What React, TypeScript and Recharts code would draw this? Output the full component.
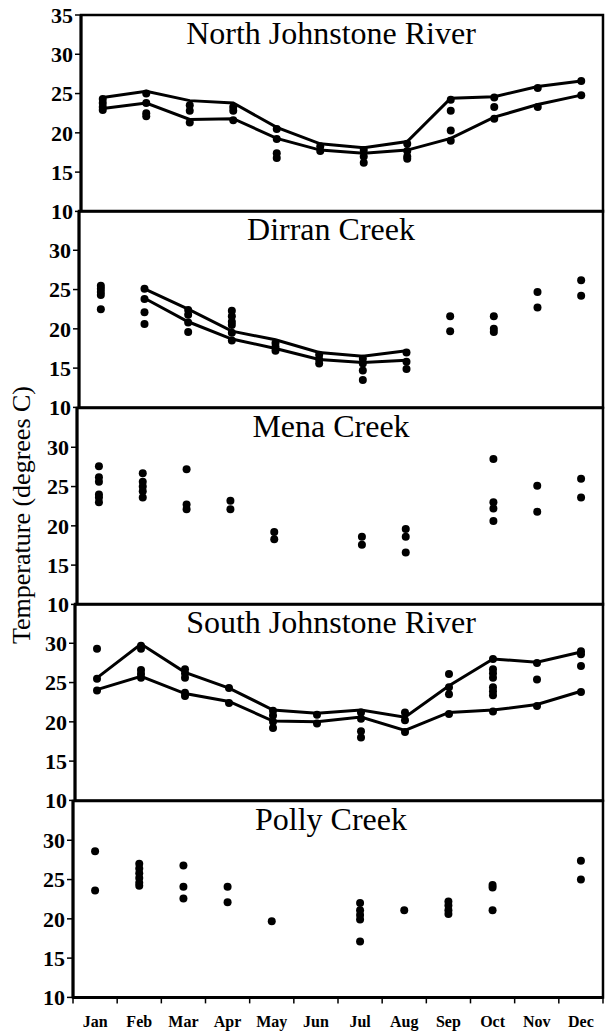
import React from 'react';
import { ComposedChart, Line, Scatter, XAxis, YAxis, ReferenceArea } from 'recharts';

const serif = '"Liberation Serif", "Times New Roman", serif';

const months = ['Jan', 'Feb', 'Mar', 'Apr', 'May', 'Jun', 'Jul', 'Aug', 'Sep', 'Oct', 'Nov', 'Dec'];
const monthNums = [1, 2, 3, 4, 5, 6, 7, 8, 9, 10, 11, 12];
const monthEdges = [0.5, 1.5, 2.5, 3.5, 4.5, 5.5, 6.5, 7.5, 8.5, 9.5, 10.5, 11.5, 12.5];
const tempTicksTop = [10, 15, 20, 25, 30, 35];
const tempTicks = [10, 15, 20, 25, 30];

// readings per month, Jan..Dec
const northPoints = [
  [24.3, 23.8, 23.3, 22.9],
  [25.0, 23.8, 22.5, 22.1],
  [23.5, 22.8, 21.3],
  [23.3, 22.8, 21.6],
  [20.5, 19.2, 17.4, 16.8],
  [18.3, 17.7],
  [17.8, 17.0, 16.2],
  [18.6, 17.7, 17.0, 16.7],
  [24.2, 22.8, 20.3, 19.0],
  [24.5, 23.3, 21.8],
  [25.7, 23.3],
  [26.6, 24.8],
];
const northUpper = [24.5, 25.3, 24.1, 23.8, 20.7, 18.6, 18.1, 18.9, 24.4, 24.6, 25.9, 26.6];
const northLower = [23.1, 23.8, 21.7, 21.8, 19.3, 17.8, 17.4, 17.8, 19.3, 22.0, 23.6, 24.8];

const dirranPoints = [
  [25.5, 25.1, 24.7, 24.3, 22.5],
  [25.1, 23.8, 22.1, 20.6],
  [22.4, 21.8, 20.8, 19.6],
  [22.3, 21.6, 20.9, 20.5, 19.5, 18.5],
  [18.2, 17.7, 17.2],
  [16.7, 16.1, 15.6],
  [16.2, 15.6, 14.7, 13.5],
  [17.0, 15.8, 14.9],
  [21.6, 19.7],
  [21.6, 20.0, 19.6],
  [24.7, 22.7],
  [26.2, 24.2],
];
const dirranUpper = [null, 25.1, 22.5, 19.7, 18.6, 17.0, 16.5, 17.2, null, null, null, null];
const dirranLower = [null, 23.9, 20.9, 18.7, 17.5, 16.1, 15.7, 16.0, null, null, null, null];

const menaPoints = [
  [27.6, 26.2, 25.6, 24.0, 23.6, 23.0],
  [26.7, 25.6, 25.0, 24.4, 23.6],
  [27.2, 22.7, 22.1],
  [23.2, 22.1],
  [19.2, 18.3],
  [],
  [18.6, 17.6],
  [19.6, 18.6, 16.6],
  [],
  [28.5, 23.0, 22.2, 20.6],
  [25.1, 21.8],
  [26.0, 23.6],
];

const southPoints = [
  [29.3, 25.5, 24.0],
  [29.7, 29.3, 26.6, 26.1, 25.6],
  [26.7, 26.2, 25.6, 23.7, 23.3],
  [24.3, 22.4],
  [21.4, 20.8, 20.0, 19.2],
  [20.9, 19.8],
  [21.2, 20.4, 18.8, 18.0],
  [21.2, 20.2, 18.7],
  [26.1, 24.4, 23.5, 21.0],
  [28.0, 26.7, 26.2, 25.6, 24.4, 23.9, 23.4, 21.3],
  [27.5, 25.4, 22.0],
  [29.0, 28.6, 27.1, 23.8],
];
const southUpper = [25.6, 29.9, 26.3, 24.3, 21.5, 21.1, 21.5, 20.6, 24.6, 28.0, 27.6, 28.9];
const southLower = [24.1, 25.8, 23.6, 22.6, 20.1, 20.0, 20.6, 18.9, 21.2, 21.5, 22.2, 23.9];

const pollyPoints = [
  [28.6, 23.6],
  [27.0, 26.4, 25.8, 25.2, 24.6, 24.2],
  [26.8, 24.1, 22.6],
  [24.1, 22.1],
  [19.7],
  [],
  [22.0, 21.1, 20.5, 19.9, 17.1],
  [21.1],
  [22.2, 21.7, 21.1, 20.6],
  [24.3, 24.0, 21.1],
  [],
  [27.4, 25.0],
];

const toPoints = (rows: number[][]) =>
  rows.flatMap((vals, i) => vals.map((v) => ({ m: i + 1, v })));
const toLine = (vals: (number | null)[]) =>
  vals.map((v, i) => ({ m: i + 1, v })).filter((d) => d.v !== null);
const monthAnchors = monthNums.map((m) => ({ m, v: 10 }));

const Dot = (props: any) => <circle cx={props.cx} cy={props.cy} r={4} fill="#000" />;
const NoShape = () => <g />;

interface PanelProps {
  title: string;
  points: number[][];
  lines?: (number | null)[][];
  top: number;
  left: number;
  first?: boolean;
  last?: boolean;
}

const PLOT_H = 196.4;
const PAD = 14;
const TITLE_X = 331;

function Panel({ title, points, lines = [], top, left, first, last }: PanelProps) {
  const height = PAD + PLOT_H + (last ? 40 : PAD);
  const plotCenter = (left + 603) / 2;
  return (
    <div style={{ position: 'absolute', top: top - PAD, left: 0 }}>
      <ComposedChart
        width={605}
        height={height}
        margin={{ top: PAD, right: 2, bottom: last ? 0 : PAD, left: 0 }}
      >
        <XAxis
          type="number"
          dataKey="m"
          domain={[0.5, 12.5]}
          ticks={monthEdges}
          interval={0}
          hide={!last}
          tickFormatter={() => ''}
          axisLine={{ stroke: '#000', strokeWidth: 3 }}
          tickLine={{ stroke: '#000', strokeWidth: 1.5 }}
          tickSize={6}
          height={8}
        />
        {last && (
          <XAxis
            xAxisId="lab"
            type="number"
            dataKey="m"
            domain={[0.5, 12.5]}
            ticks={monthNums}
            interval={0}
            tickFormatter={(v: number) => months[v - 1]}
            axisLine={false}
            tickLine={false}
            tickMargin={4}
            height={32}
            tick={{ fontSize: 16, fontWeight: 'bold', fill: '#000', fontFamily: serif }}
          />
        )}
        <YAxis
          type="number"
          dataKey="v"
          domain={[10, 35]}
          ticks={first ? tempTicksTop : tempTicks}
          interval={0}
          width={left}
          axisLine={{ stroke: '#000', strokeWidth: 3 }}
          tickLine={{ stroke: '#000', strokeWidth: 1.5 }}
          tickSize={6}
          tickMargin={2}
          tick={{ fontSize: 22, fontWeight: 'bold', fill: '#000', fontFamily: serif }}
        />
        <ReferenceArea
          x1={0.5}
          x2={12.5}
          y1={10}
          y2={35}
          fill="none"
          fillOpacity={0}
          stroke="#000"
          strokeWidth={2.5}
          ifOverflow="visible"
          label={{
            value: title,
            position: 'insideTop',
            offset: 6,
            dx: TITLE_X - plotCenter,
            fontSize: 32,
            fill: '#000',
            fontFamily: serif,
          }}
        />
        {lines.map((vals, i) => (
          <Line
            key={i}
            data={toLine(vals)}
            dataKey="v"
            stroke="#000"
            strokeWidth={3}
            dot={false}
            activeDot={false}
            isAnimationActive={false}
          />
        ))}
        <Scatter data={toPoints(points)} shape={Dot} isAnimationActive={false} />
        {last && (
          <Scatter xAxisId="lab" data={monthAnchors} shape={NoShape} isAnimationActive={false} />
        )}
      </ComposedChart>
    </div>
  );
}

export default function App() {
  const tops = [0, 1, 2, 3, 4].map((i) => 15 + PLOT_H * i);
  return (
    <div
      style={{
        position: 'absolute',
        left: 0,
        top: 0,
        width: 605,
        height: 1034,
        background: '#fff',
        fontFamily: serif,
      }}
    >
      <Panel title="North Johnstone River" points={northPoints} lines={[northUpper, northLower]} top={tops[0]} left={81} first />
      <Panel title="Dirran Creek" points={dirranPoints} lines={[dirranUpper, dirranLower]} top={tops[1]} left={79} />
      <Panel title="Mena Creek" points={menaPoints} top={tops[2]} left={77} />
      <Panel title="South Johnstone River" points={southPoints} lines={[southUpper, southLower]} top={tops[3]} left={75} />
      <Panel title="Polly Creek" points={pollyPoints} top={tops[4]} left={73} last />
      <div
        style={{
          position: 'absolute',
          left: 22,
          top: 515,
          transform: 'translate(-50%, -50%) rotate(-90deg)',
          whiteSpace: 'nowrap',
          fontSize: 26,
          color: '#000',
        }}
      >
        Temperature (degrees C)
      </div>
    </div>
  );
}
